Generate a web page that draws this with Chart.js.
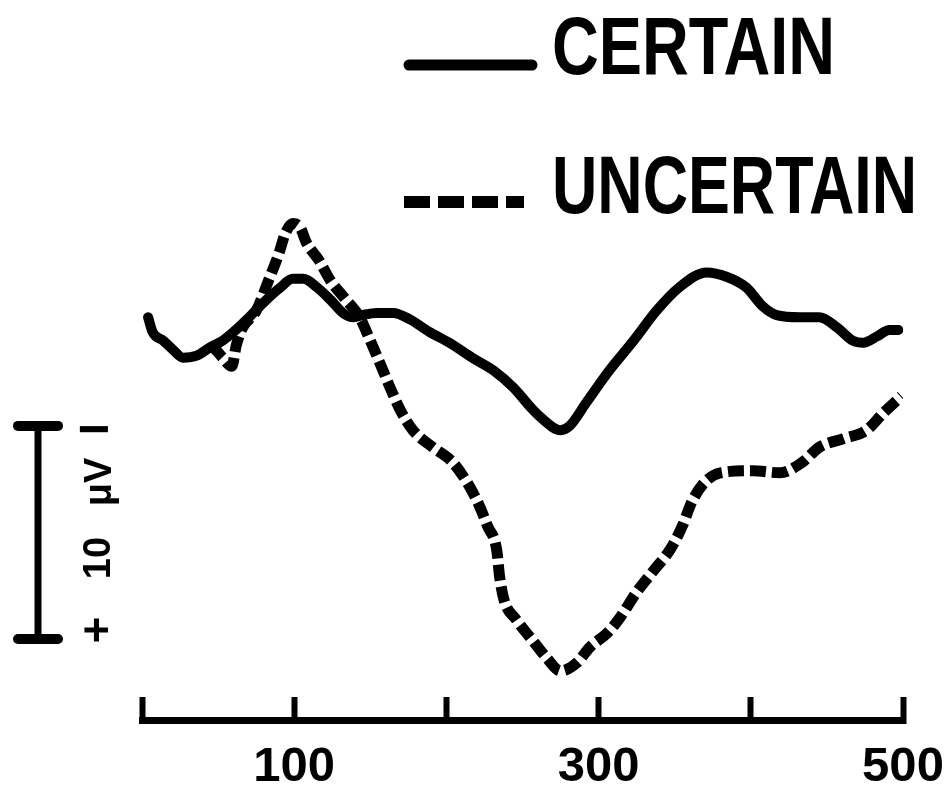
<!DOCTYPE html>
<html>
<head>
<meta charset="utf-8">
<script src="https://cdn.jsdelivr.net/npm/chart.js@4/dist/chart.umd.min.js"></script>
<style>
  html, body { margin: 0; padding: 0; background: #fff; }
  canvas { display: block; }
</style>
</head>
<body>
<canvas id="c" width="948" height="787"></canvas>
<script>
// ---- data (time in ms, amplitude in microvolts; positive plotted downward) ----
const certainTime = [4, 7, 14, 20, 27, 36, 45, 53, 60, 69, 80, 91, 99, 106, 115, 124, 132, 139, 145, 154,
  165, 176, 189, 202, 217, 231, 244, 255, 262, 275, 281, 292, 307, 323, 338, 353, 371, 384, 397, 408,
  417, 432, 445, 457, 467, 474, 483, 491, 497];
const certainValue = [-0.6, 0.1, 0.5, 0.9, 1.3, 1.2, 0.8, 0.5, 0.1, -0.5, -1.3, -2.0, -2.4, -2.4, -2.0, -1.4, -0.8, -0.6, -0.7, -0.8,
  -0.8, -0.5, 0.1, 0.6, 1.3, 1.9, 2.7, 3.6, 4.1, 4.7, 4.5, 3.4, 1.9, 0.5, -0.9, -2.0, -2.7, -2.5, -2.0, -1.1,
  -0.7, -0.6, -0.6, -0.1, 0.5, 0.6, 0.3, 0.0, 0.0];
const uncertainTime = [45, 48, 53, 59, 62, 66, 75, 83, 90, 94, 99, 104, 108, 116, 124, 133, 143, 150, 156, 163,
  170, 178, 191, 204, 214, 222, 227, 233, 235, 238, 246, 257, 266, 275, 286, 294, 306, 314, 325, 336,
  347, 355, 361, 369, 380, 401, 419, 434, 445, 461, 476, 487, 499];
const uncertainValue = [0.8, 0.9, 1.3, 1.7, 0.7, -0.1, -0.9, -2.3, -3.6, -4.5, -5.0, -4.8, -4.1, -3.3, -2.3, -1.5, -0.6, 0.5, 1.5, 2.7,
  3.8, 4.7, 5.5, 6.2, 7.2, 8.3, 9.2, 10.3, 11.6, 12.7, 13.6, 14.6, 15.4, 16.0, 15.6, 14.9, 14.2, 13.5, 12.3, 11.3,
  10.3, 9.2, 8.1, 7.2, 6.7, 6.6, 6.7, 6.2, 5.5, 5.1, 4.7, 3.9, 3.1];
const xTickLabels = [100, 300, 500];
const legendLabels = ['CERTAIN', 'UNCERTAIN'];
const scaleBarMicrovolts = 10;
const scaleBarStart = 4.5;

const FONT = '"Liberation Sans", Arial, sans-serif';

const annot = {
  id: 'annot',
  beforeDraw(chart) {
    const c = chart.ctx;
    c.save(); c.fillStyle = '#fff'; c.fillRect(0, 0, chart.width, chart.height); c.restore();
  },
  afterDraw(chart) {
    const ctx = chart.ctx;
    const ys = chart.scales.y;
    ctx.save();
    ctx.fillStyle = '#000';
    ctx.strokeStyle = '#000';

    const drawFit = (text, x, baseline, size, width) => {
      ctx.font = `bold ${size}px ${FONT}`;
      const w = ctx.measureText(text).width;
      ctx.save();
      ctx.translate(x, baseline);
      ctx.scale(width / w, 1);
      ctx.textAlign = 'left';
      ctx.textBaseline = 'alphabetic';
      ctx.fillText(text, 0, 0);
      ctx.restore();
    };

    // legend
    ctx.lineWidth = 11; ctx.lineCap = 'round';
    ctx.beginPath(); ctx.moveTo(409, 65); ctx.lineTo(532, 65); ctx.stroke();
    drawFit(legendLabels[0], 552, 74, 82, 283);

    ctx.lineWidth = 12; ctx.lineCap = 'butt'; ctx.setLineDash([26, 8]);
    ctx.beginPath(); ctx.moveTo(404, 202); ctx.lineTo(524, 202); ctx.stroke();
    ctx.setLineDash([]);
    drawFit(legendLabels[1], 552, 213, 82, 365);

    // calibration bar
    const yTop = ys.getPixelForValue(scaleBarStart);
    const yBot = ys.getPixelForValue(scaleBarStart + scaleBarMicrovolts);
    ctx.lineCap = 'round';
    ctx.lineWidth = 7;
    ctx.beginPath(); ctx.moveTo(38, yTop); ctx.lineTo(38, yBot); ctx.stroke();
    ctx.lineWidth = 10;
    ctx.beginPath(); ctx.moveTo(18, yTop); ctx.lineTo(58, yTop); ctx.stroke();
    ctx.beginPath(); ctx.moveTo(18, yBot); ctx.lineTo(58, yBot); ctx.stroke();

    const rot = (text, xc, yc, size) => {
      ctx.save();
      ctx.translate(xc, yc);
      ctx.rotate(-Math.PI / 2);
      ctx.font = `bold ${size}px ${FONT}`;
      ctx.textAlign = 'center';
      ctx.textBaseline = 'alphabetic';
      ctx.fillText(text, 0, size * 0.358);
      ctx.restore();
    };
    rot('+', 96, 630, 46);
    rot('10', 96, 558, 38);
    rot('μV', 97, 482, 38);
    ctx.font = `bold 56px ${FONT}`;
    ctx.textAlign = 'center';
    ctx.textBaseline = 'middle';
    ctx.fillText('−', 94, 433);
    ctx.restore();
  }
};

new Chart(document.getElementById('c'), {
  type: 'line',
  data: {
    datasets: [
      {
        label: legendLabels[0],
        data: certainTime.map((t, i) => ({ x: t, y: certainValue[i] })),
        borderColor: '#000',
        borderWidth: 10,
        pointRadius: 0,
        cubicInterpolationMode: 'monotone',
        borderCapStyle: 'round',
        borderJoinStyle: 'round',
        fill: false
      },
      {
        label: legendLabels[1],
        data: uncertainTime.map((t, i) => ({ x: t, y: uncertainValue[i] })),
        borderColor: '#000',
        borderWidth: 11,
        borderDash: [16, 6],
        pointRadius: 0,
        cubicInterpolationMode: 'monotone',
        borderCapStyle: 'butt',
        fill: false
      }
    ]
  },
  options: {
    responsive: false,
    animation: false,
    devicePixelRatio: 1,
    layout: { padding: { left: 142, right: 45, top: 200, bottom: 0 } },
    plugins: { legend: { display: false }, tooltip: { enabled: false } },
    scales: {
      x: {
        type: 'linear',
        min: 0,
        max: 500,
        afterFit: (s) => { s.height = 67; s.paddingLeft = 0; s.paddingRight = 0; },
        border: { display: true, color: '#000', width: 7 },
        grid: { drawOnChartArea: false, drawTicks: true, tickLength: -23, tickWidth: 6, tickColor: '#000' },
        ticks: {
          stepSize: 100,
          autoSkip: false,
          maxRotation: 0,
          padding: 41,
          color: '#000',
          font: { family: FONT, size: 49, weight: 'bold' },
          callback: (v) => (xTickLabels.includes(v) ? String(v) : '')
        }
      },
      y: { type: 'linear', display: false, reverse: true, min: -6.1, max: 18.3 }
    }
  },
  plugins: [annot]
});
</script>
</body>
</html>
